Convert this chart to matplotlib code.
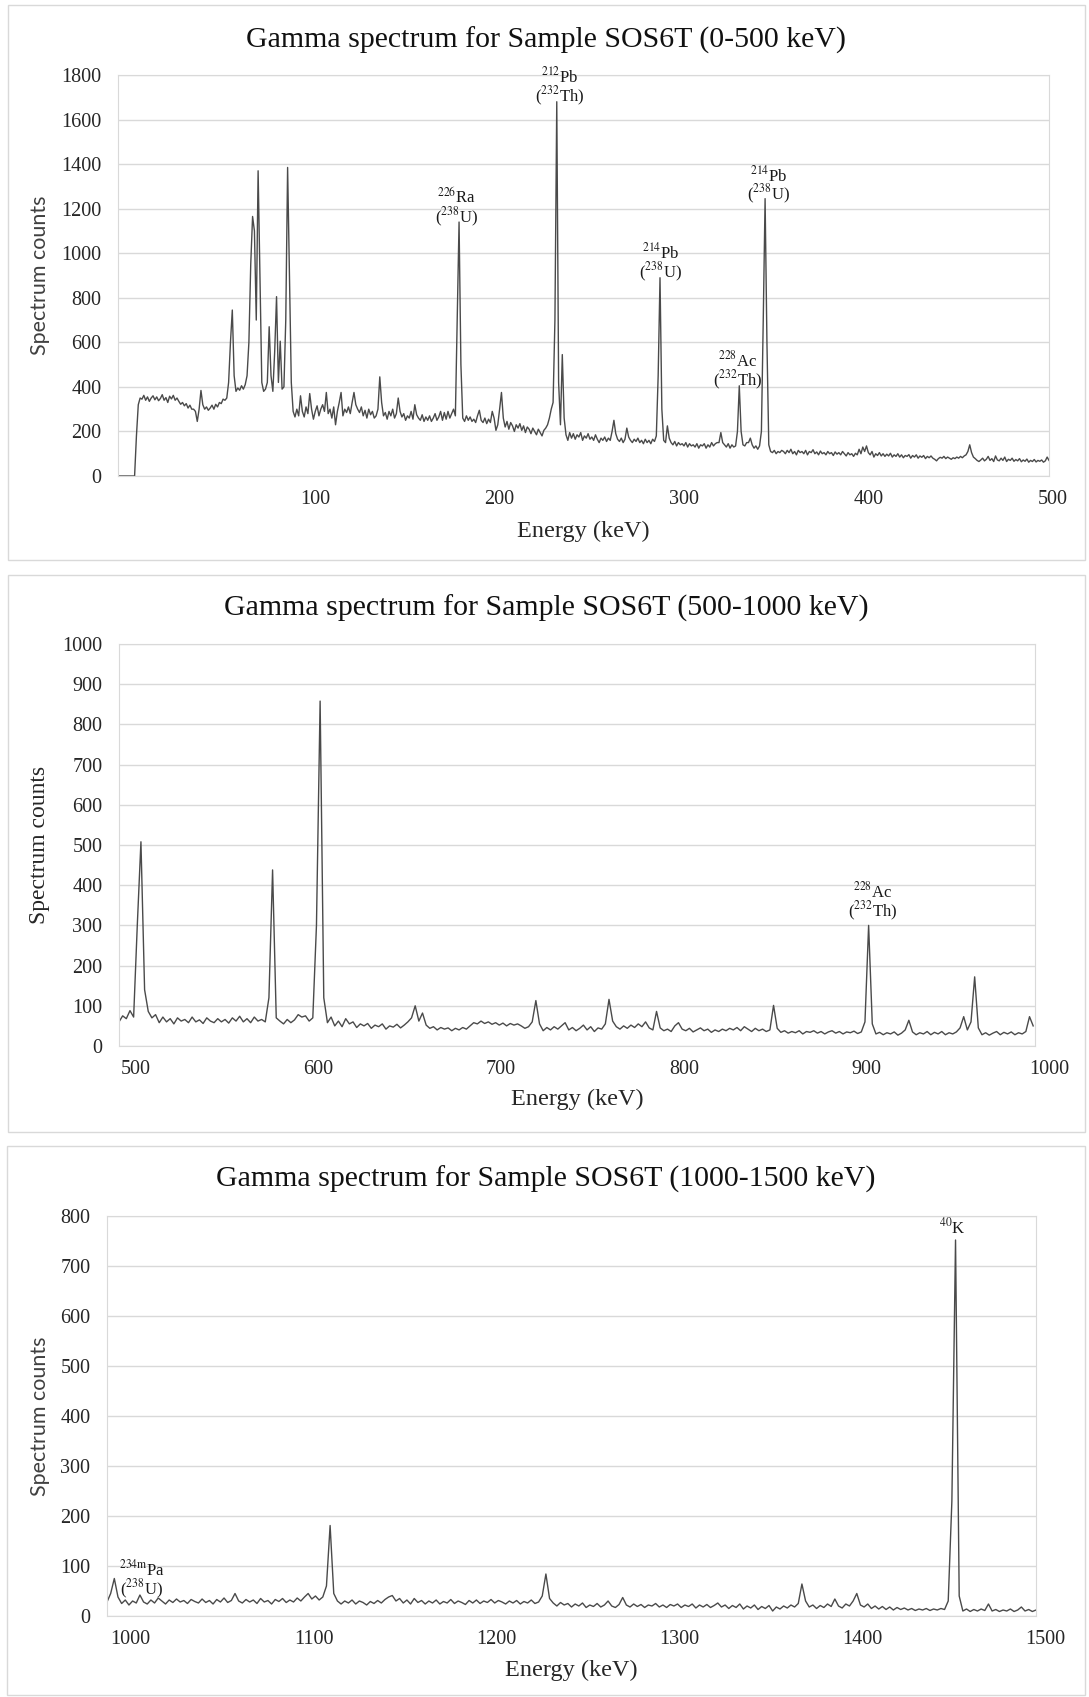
import numpy as np
import matplotlib
matplotlib.use('Agg')
import matplotlib.pyplot as plt
from matplotlib.patches import Rectangle

plt.rcParams['font.family'] = ['Liberation Serif', 'DejaVu Serif']
plt.rcParams['mathtext.fontset'] = 'stix'

W, H = 1089, 1697

# ---- data ----
titles = ['Gamma spectrum for Sample SOS6T (0-500 keV)',
          'Gamma spectrum for Sample SOS6T (500-1000 keV)',
          'Gamma spectrum for Sample SOS6T (1000-1500 keV)']

# panel 1: 1 keV channels from -7 to 498 keV
energy1 = np.arange(-7, 499)
counts1 = [
    0, 0, 0, 0, 0, 0, 0, 0, 0, 0,
    180, 320, 350, 345, 362, 340, 355, 335, 350, 360,
    342, 355, 338, 348, 365, 340, 352, 330, 358, 346,
    362, 340, 350, 335, 322, 330, 315, 325, 305, 318,
    300, 300, 290, 245, 300, 384, 320, 300, 310, 295,
    305, 318, 300, 322, 310, 330, 325, 345, 340, 350,
    420, 600, 745, 450, 380, 395, 385, 405, 390, 410,
    450, 600, 950, 1165, 1100, 700, 1370, 900, 420, 380,
    390, 420, 670, 450, 380, 560, 805, 420, 605, 390,
    400, 700, 1385, 900, 420, 290, 265, 300, 270, 360,
    290, 265, 310, 280, 370, 300, 255, 290, 315, 270,
    300, 320, 290, 375, 280, 300, 260, 310, 230, 290,
    330, 375, 270, 300, 285, 310, 280, 330, 375, 320,
    300, 285, 310, 270, 295, 260, 300, 275, 290, 260,
    270, 300, 445, 330, 270, 285, 255, 290, 270, 300,
    260, 280, 350, 290, 265, 280, 250, 270, 260, 290,
    255, 320, 275, 260, 250, 275, 245, 265, 250, 270,
    245, 260, 280, 250, 265, 290, 250, 285, 255, 290,
    260, 280, 300, 270, 700, 1140, 500, 260, 245, 270,
    250, 265, 245, 255, 240, 270, 295, 250, 240, 260,
    235, 255, 240, 290, 260, 205, 230, 300, 375, 260,
    220, 245, 210, 240, 225, 200, 230, 215, 235, 205,
    225, 195, 220, 210, 190, 215, 200, 185, 210, 195,
    180, 205, 215, 230, 260, 300, 330, 700, 1680, 420,
    230, 545, 260, 185, 160, 195, 170, 190, 165, 185,
    175, 195, 160, 180, 170, 190, 165, 175, 160, 185,
    165, 150, 170, 160, 175, 155, 170, 160, 200, 250,
    190, 165, 155, 170, 150, 165, 215, 175, 160, 150,
    165, 155, 170, 150, 160, 145, 165, 150, 160, 145,
    165, 155, 180, 450, 890, 300, 160, 150, 225, 170,
    150, 140, 155, 135, 150, 140, 145, 135, 150, 130,
    145, 135, 140, 130, 145, 125, 140, 135, 145, 125,
    140, 130, 150, 135, 145, 150, 150, 195, 150, 140,
    130, 145, 125, 140, 130, 135, 200, 405, 200, 140,
    135, 150, 150, 170, 140, 125, 135, 120, 135, 200,
    700, 1245, 600, 140, 110, 105, 115, 100, 110, 105,
    115, 110, 100, 115, 105, 120, 100, 110, 95, 115,
    105, 110, 100, 115, 95, 110, 105, 118, 100, 108,
    95, 112, 100, 105, 95, 110, 100, 105, 92, 108,
    98, 105, 95, 110, 100, 90, 105, 95, 100, 88,
    102, 95, 120, 100, 130, 110, 135, 105, 95, 110,
    85, 100, 92, 105, 90, 100, 88, 98, 90, 102,
    85, 95, 88, 100, 85, 95, 82, 92, 88, 96,
    80, 92, 85, 95, 80, 90, 84, 92, 78, 88,
    82, 90, 80, 75, 68, 78, 84, 80, 88, 78,
    85, 80, 75, 82, 78, 85, 80, 88, 82, 90,
    95, 110, 140, 105, 85, 78, 70, 65, 72, 80,
    68, 75, 88, 70, 78, 65, 90, 72, 68, 80,
    70, 85, 65, 75, 70, 80, 66, 74, 68, 78,
    64, 72, 66, 76, 62, 70, 65, 74, 63, 70,
    66, 72, 62, 68, 85, 70,
]

# panel 2: 2 keV channels from 491 to 991 keV
energy2 = np.arange(491, 992, 2)
counts2 = [
    60, 75, 68, 88, 72, 300, 508, 140, 86, 70,
    78, 58, 72, 60, 68, 55, 70, 62, 66, 58,
    72, 60, 65, 56, 70, 62, 58, 68, 60, 66,
    57, 70, 62, 74, 60, 68, 58, 72, 62, 66,
    60, 120, 438, 70, 62, 55, 66, 58, 65, 78,
    72, 75, 62, 70, 300, 858, 120, 58, 72, 50,
    62, 48, 68, 55, 60, 46, 55, 50, 56, 44,
    52, 48, 55, 42, 50, 47, 54, 45, 52, 60,
    70, 100, 62, 82, 52, 44, 48, 40, 46, 42,
    45, 38, 44, 40, 46, 42, 50, 58, 55, 62,
    56, 60, 54, 58, 52, 57, 50, 56, 52, 55,
    50, 44, 48, 60, 113, 55, 38, 46, 40, 48,
    42, 50, 58, 40, 46, 38, 44, 52, 40, 48,
    36, 45, 42, 55, 116, 62, 48, 42, 50, 44,
    52, 46, 55, 48, 60, 45, 40, 86, 45, 38,
    42, 36, 50, 58, 42, 38, 44, 35, 40, 45,
    38, 42, 34, 40, 36, 42, 38, 44, 40, 46,
    38, 48, 42, 36, 44, 38, 42, 36, 40, 101,
    44, 34, 38, 32, 36, 33, 38, 30, 36, 34,
    38, 32, 36, 30, 35, 38, 32, 36, 30, 35,
    33, 37, 31, 35, 60, 300, 55, 30, 34, 28,
    33, 30, 35, 27, 32, 40, 64, 35, 28, 33,
    30, 36, 28, 34, 30, 36, 28, 33, 30, 35,
    45, 73, 40, 60, 172, 45, 28, 33, 27, 32,
    36, 28, 34, 30, 35, 28, 33, 30, 36, 73,
    50,
]

# panel 3: 2 keV channels from 987 to 1495 keV
energy3 = np.arange(987, 1496, 2)
counts3 = [
    28, 45, 75, 38, 25, 32, 22, 30, 26, 42,
    28, 24, 32, 26, 36, 30, 24, 32, 27, 34,
    28, 31, 25, 33, 29, 26, 34, 27, 31, 24,
    33, 28, 36, 27, 31, 45, 30, 26, 33, 28,
    32, 25, 35, 28, 31, 24, 33, 29, 35, 27,
    32, 28, 36, 30, 38, 45, 34, 40, 32, 38,
    60, 181, 45, 30, 24, 30, 26, 32, 24, 30,
    27, 22, 29, 25, 31, 26, 33, 38, 41, 30,
    35, 26, 32, 24, 35, 27, 31, 24, 30, 26,
    32, 24, 29, 26, 33, 25, 30, 27, 23, 31,
    26, 32, 25, 30, 27, 33, 26, 31, 28, 24,
    30, 26, 31, 24, 29, 26, 32, 25, 28, 40,
    84, 35, 26, 20, 27, 22, 25, 18, 24, 20,
    26, 17, 22, 19, 25, 18, 22, 30, 20, 17,
    23, 37, 22, 18, 24, 19, 23, 17, 22, 20,
    25, 18, 22, 17, 23, 20, 24, 17, 22, 19,
    24, 16, 22, 18, 23, 17, 21, 26, 18, 22,
    15, 21, 17, 24, 14, 20, 16, 22, 13, 19,
    15, 21, 10, 18, 14, 20, 16, 22, 18, 25,
    64, 30, 18, 22, 15, 21, 17, 24, 19, 34,
    20, 16, 24, 20, 30, 45, 22, 18, 24, 15,
    20, 14, 19, 13, 18, 12, 17, 13, 16, 12,
    15, 11, 14, 12, 15, 11, 14, 12, 15, 13,
    30, 230, 752, 40, 10, 14, 9, 13, 10, 14,
    11, 24, 10, 13, 9, 12, 10, 14, 9, 12,
    18, 10, 13, 9, 12,
]

xticks1 = [100, 200, 300, 400, 500]
xticks2 = [500, 600, 700, 800, 900, 1000]
xticks3 = [1000, 1100, 1200, 1300, 1400, 1500]

# peak labels: (energy, counts at the label's bottom, text)
notes1 = [(176.5, 1110, '$^{226}$Ra\n($^{238}$U)'),
          (232.5, 1650, '$^{212}$Pb\n($^{232}$Th)'),
          (287.5, 860, '$^{214}$Pb\n($^{238}$U)'),
          (346, 1210, '$^{214}$Pb\n($^{238}$U)'),
          (329, 378, '$^{228}$Ac\n($^{232}$Th)')]
notes2 = [(903.5, 306, '$^{228}$Ac\n($^{232}$Th)')]
notes3 = [(1006, 30, r'$^{234\mathrm{m}}$Pa' + '\n' + '($^{238}$U)'),
          (1449.5, 758, '$^{40}$K')]

# ---- layout in pixels ----
panels = [
    dict(e=energy1, c=counts1, box=(8, 5, 1085, 560), plot=(118, 75, 1049, 476),
         xlim=(-7, 498), ymax=1800, ystep=200, xticks=xticks1, title=titles[0],
         title_y=40, tick_y=500, xlab_y=531, ylab_sans=True, notes=notes1),
    dict(e=energy2, c=counts2, box=(8, 575, 1085, 1132), plot=(119, 644, 1035, 1046),
         xlim=(491, 992), ymax=1000, ystep=100, xticks=xticks2, title=titles[1],
         title_y=608, tick_y=1069, xlab_y=1099, ylab_sans=False, notes=notes2),
    dict(e=energy3, c=counts3, box=(7, 1146, 1085, 1695), plot=(107, 1216, 1036, 1616),
         xlim=(987, 1495), ymax=800, ystep=100, xticks=xticks3, title=titles[2],
         title_y=1179, tick_y=1640, xlab_y=1670, ylab_sans=True, notes=notes3),
]

fig = plt.figure(figsize=(W / 100, H / 100), dpi=100)
fig.patch.set_facecolor('white')

line_col = '#4a4a4a'
grid_col = '#d9d9d9'
text_col = '#262626'

for p in panels:
    bx0, by0, bx1, by1 = p['box']
    fig.patches.append(Rectangle((bx0 / W, 1 - by1 / H), (bx1 - bx0) / W, (by1 - by0) / H,
                                 transform=fig.transFigure, fill=False,
                                 edgecolor=grid_col, lw=1.0))
    x0, y0, x1, y1 = p['plot']
    ax = fig.add_axes([x0 / W, 1 - y1 / H, (x1 - x0) / W, (y1 - y0) / H])
    ax.plot(p['e'], p['c'], color=line_col, lw=1.0)
    ax.set_xlim(*p['xlim'])
    ax.set_ylim(0, p['ymax'])
    ax.set_yticks(np.arange(0, p['ymax'] + 1, p['ystep']))
    ax.yaxis.grid(True, color=grid_col, lw=1.0)
    ax.set_axisbelow(True)
    ax.set_xticks([])
    ax.tick_params(axis='y', length=0, pad=12, labelsize=14.5, labelcolor=text_col)
    for s in ax.spines.values():
        s.set_color(grid_col)

    off = (p['tick_y'] - y1) / (y1 - y0)
    for v in p['xticks']:
        ax.text(v, -off, str(v), transform=ax.get_xaxis_transform(), ha='center',
                va='center', fontsize=14.5, color=text_col, clip_on=False)

    for e, c, t in p['notes']:
        ax.text(e, c, t, ha='center', va='bottom', ma='center', fontsize=12,
                linespacing=0.9, color='#1a1a1a')

    cx = (x0 + x1) / 2
    fig.text(0.5 * (bx0 + bx1) / W, 1 - p['title_y'] / H, p['title'], ha='center',
             va='center', fontsize=21.5, color='#111111')
    fig.text(cx / W, 1 - p['xlab_y'] / H, 'Energy (keV)', ha='center', va='center',
             fontsize=17.5, color=text_col)
    if p['ylab_sans']:
        fig.text(40 / W, 1 - (y0 + y1) / 2 / H, 'Spectrum counts', rotation=90,
                 ha='center', va='center', fontsize=15.5, color='#404040',
                 family=['Lato', 'DejaVu Sans'])
    else:
        fig.text(40 / W, 1 - (y0 + y1) / 2 / H, 'Spectrum counts', rotation=90,
                 ha='center', va='center', fontsize=17, color=text_col)

fig.savefig('out.png', dpi=100, facecolor='white')
